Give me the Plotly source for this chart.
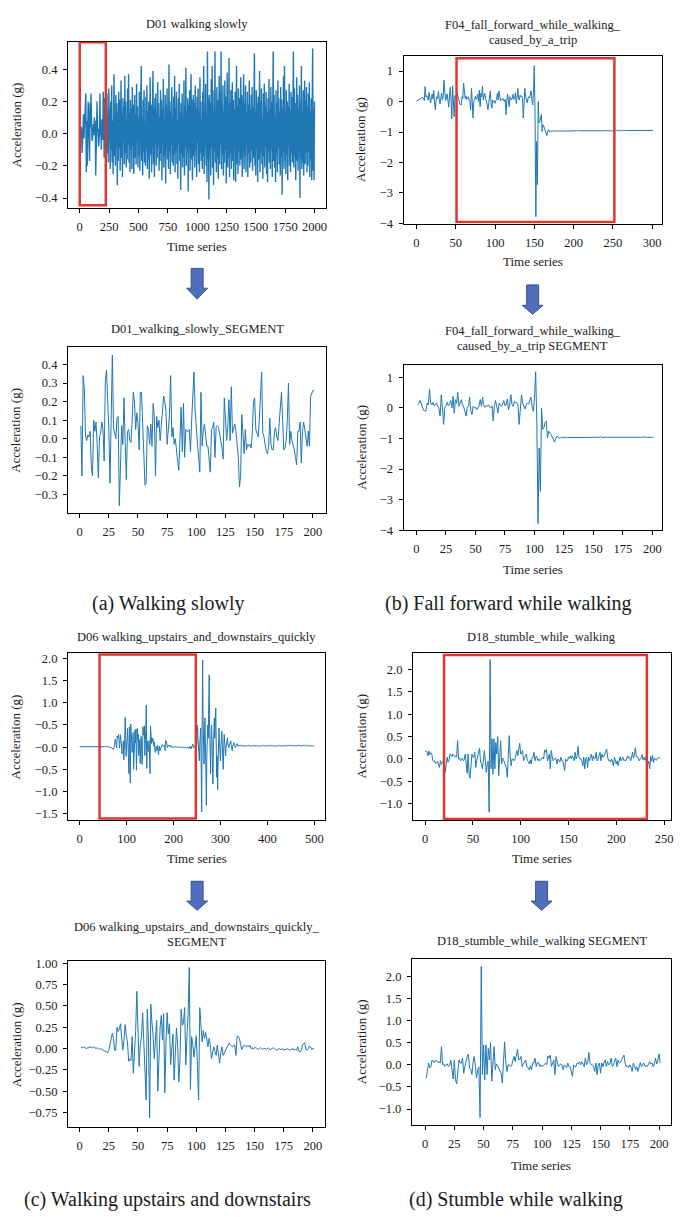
import numpy as np
import plotly.graph_objects as go

W, H = 682, 1217
FONT = "Liberation Serif"
LINE = "#1f77b4"
RED = "#e2352b"
ARROW_FILL = "#4f6fbd"
ARROW_EDGE = "#34508f"
TXT = "#1a1a1a"

# ---------------------------------------------------------------- data
# D01 walking slowly: 201-sample segment (samples 1..201)
D01_SEG = [
    0.07, -0.20, 0.34, 0.27, 0.02, -0.01, 0.02, 0.01, 0.04, -0.15,
    -0.20, 0.10, 0.04, 0.09, -0.03, -0.21, 0.01, 0.03, 0.09, 0.05,
    -0.12, 0.31, 0.37, 0.24, 0.05, -0.24, 0.12, 0.45, 0.06, 0.03,
    0.00, 0.11, 0.12, -0.36, -0.12, 0.07, -0.03, 0.22, -0.02, -0.22,
    0.04, 0.05, -0.01, -0.02, 0.10, 0.25, 0.20, 0.05, 0.14, 0.08,
    -0.06, 0.25, 0.25, 0.10, -0.04, -0.25, -0.24, 0.07, 0.05, -0.03,
    0.08, -0.04, 0.19, 0.12, -0.20, 0.12, 0.06, 0.10, -0.01, 0.08,
    0.15, 0.23, 0.20, 0.15, -0.03, 0.05, 0.13, 0.34, 0.01, 0.06,
    -0.03, 0.00, -0.08, -0.12, -0.17, 0.05, 0.17, -0.07, 0.19, -0.10,
    0.05, 0.04, 0.04, 0.05, -0.07, 0.10, 0.25, 0.36, 0.15, 0.03,
    -0.03, -0.10, -0.18, 0.25, -0.04, 0.04, 0.08, 0.02, -0.04, -0.04,
    -0.10, -0.18, 0.05, 0.06, 0.09, -0.10, 0.06, 0.07, 0.06, 0.01,
    -0.01, -0.05, -0.11, 0.22, 0.10, -0.01, 0.07, 0.21, -0.01, 0.28,
    0.03, 0.06, 0.08, 0.04, -0.03, -0.10, -0.26, -0.20, 0.13, 0.04,
    -0.08, 0.05, -0.06, -0.03, -0.04, -0.03, -0.05, 0.03, 0.20, 0.22,
    0.05, 0.03, 0.01, 0.10, 0.20, 0.36, 0.03, 0.01, -0.03, -0.07,
    -0.08, -0.04, 0.11, -0.03, -0.06, -0.06, 0.04, 0.06, 0.01, -0.01,
    0.08, 0.15, 0.25, 0.10, -0.06, -0.05, -0.01, 0.10, 0.30, -0.03,
    0.04, -0.01, -0.03, -0.06, -0.10, -0.14, 0.04, 0.04, 0.09, -0.13,
    0.04, 0.09, 0.05, -0.01, -0.04, 0.04, -0.04, 0.23, 0.25, 0.26,
    0.26,
]
# rest of the D01 recording, every 4th sample from 204 to 2000
D01_STEP = 4
D01_REST = [
    0.12, -0.15, 0.22, -0.08, 0.18, -0.20, 0.05, 0.25, -0.12, 0.10, -0.18, 0.28, -0.05, 0.15, -0.22,
    0.20, -0.10, 0.30, -0.18, 0.08, -0.25, 0.16, 0.37, -0.14, 0.12, -0.20, 0.24, -0.06, 0.19, -0.32,
    0.14, -0.17, 0.26, -0.09, 0.21, -0.23, 0.06, 0.33, -0.15, 0.11, -0.27, 0.22, -0.04, 0.17, -0.19,
    0.36, -0.12, 0.20, -0.21, 0.09, -0.16, 0.28, -0.07, 0.37, -0.18, 0.13, -0.24, 0.21, -0.10, 0.16,
    -0.22, 0.29, -0.08, 0.18, -0.25, 0.07, 0.24, -0.15, 0.12, -0.19, 0.31, -0.05, 0.17, -0.21, 0.10,
    -0.14, 0.26, -0.23, 0.15, -0.07, 0.42, -0.17, 0.09, -0.26, 0.21, -0.11, 0.27, -0.18, 0.06, -0.20,
    0.23, -0.09, 0.30, -0.22, 0.14, -0.16, 0.20, -0.28, 0.11, 0.35, -0.13, 0.18, -0.24, 0.08, -0.10,
    0.39, -0.19, 0.16, -0.27, 0.22, -0.06, 0.25, -0.20, 0.13, -0.15, 0.32, -0.08, 0.19, -0.23, 0.10,
    -0.17, 0.27, -0.12, 0.21, -0.29, 0.15, -0.05, 0.34, -0.21, 0.09, -0.14, 0.24, -0.31, 0.18, -0.09,
    0.28, -0.16, 0.12, -0.22, 0.43, -0.11, 0.20, -0.25, 0.14, -0.07, 0.29, -0.18, 0.10, -0.20, 0.23,
    -0.13, 0.36, -0.24, 0.16, -0.10, 0.26, -0.19, 0.08, -0.28, 0.22, -0.06, 0.31, -0.17, 0.13, -0.35,
    0.19, -0.12, 0.25, -0.21, 0.11, -0.15, 0.33, -0.26, 0.17, -0.08, 0.41, -0.20, 0.14, -0.11, 0.22,
    -0.36, 0.18, -0.09, 0.27, -0.23, 0.12, 0.37, -0.16, 0.21, -0.29, 0.07, 0.24, -0.14, 0.19, -0.21,
    0.30, -0.10, 0.16, -0.27, 0.23, -0.05, 0.28, -0.19, 0.13, -0.24, 0.35, -0.12, 0.20, -0.17, 0.09,
    -0.22, 0.26, -0.14, 0.42, -0.25, 0.15, -0.08, 0.31, -0.20, 0.11, -0.30, 0.51, -0.16, 0.22, -0.41,
    0.24, -0.13, 0.19, -0.26, 0.34, -0.09, 0.42, -0.21, 0.14, -0.32, 0.27, -0.11, 0.51, -0.18, 0.12,
    -0.24, 0.29, -0.15, 0.21, -0.28, 0.10, 0.36, -0.19, 0.25, -0.07, 0.51, -0.22, 0.17, -0.13, 0.30,
    -0.26, 0.14, -0.18, 0.33, -0.10, 0.23, -0.31, 0.16, 0.38, -0.21, 0.12, -0.15, 0.47, -0.27, 0.19,
    -0.12, 0.27, -0.22, 0.09, 0.32, -0.17, 0.21, -0.29, 0.15, -0.08, 0.26, -0.30, 0.13, 0.42, -0.19,
    0.17, -0.25, 0.28, -0.11, 0.22, -0.20, 0.10, 0.35, -0.16, 0.24, -0.27, 0.12, -0.09, 0.37, -0.22,
    0.19, -0.14, 0.30, -0.24, 0.13, -0.07, 0.26, -0.27, 0.18, -0.12, 0.33, -0.21, 0.15, -0.18, 0.24,
    -0.10, 0.29, -0.23, 0.16, -0.15, 0.21, 0.50, -0.20, 0.12, -0.26, 0.27, -0.09, 0.19, -0.30, 0.23,
    -0.16, 0.14, 0.39, -0.24, 0.20, -0.11, 0.28, -0.19, 0.09, -0.28, 0.25, -0.14, 0.31, -0.21, 0.17,
    -0.08, 0.26, -0.25, 0.13, -0.30, 0.22, -0.12, 0.34, -0.18, 0.15, -0.22, 0.29, -0.10, 0.20, -0.27,
    0.18, 0.51, -0.17, 0.24, -0.21, 0.11, -0.30, 0.27, -0.13, 0.19, -0.24, 0.33, -0.09, 0.22, -0.19,
    0.14, -0.26, 0.29, -0.15, 0.21, -0.38, 0.16, -0.11, 0.36, -0.22, 0.42, -0.17, 0.12, -0.25, 0.27,
    -0.13, 0.20, -0.29, 0.17, -0.08, 0.31, -0.20, 0.14, -0.24, 0.26, -0.12, 0.23, -0.18, 0.15, 0.51,
    -0.21, 0.28, -0.14, 0.19, -0.29, 0.12, 0.35, -0.17, 0.24, -0.23, 0.16, -0.10, 0.30, -0.40, 0.20,
    -0.15, 0.42, -0.22, 0.13, -0.18, 0.27, -0.26, 0.10, 0.33, -0.19, 0.21, -0.12, 0.29, -0.24, 0.17,
    -0.20, 0.25, -0.11, 0.32, -0.27, 0.14, -0.16, 0.22, -0.29, 0.18, 0.53, -0.23, 0.15, -0.29, 0.20,
]

# F04 fall forward while walking caused by a trip
F04_PRE = [
    0.01, 0.03, 0.06, 0.09, 0.10, 0.11, 0.12, 0.12, 0.13, 0.08,
    0.03, 0.49, 0.15, 0.20, 0.09, 0.05, 0.30, 0.12, -0.05, 0.10,
    0.25, 0.08, 0.36, -0.02, -0.27, 0.05, 0.16, 0.10, 0.34, 0.05,
    -0.08, 0.12, 0.27, 0.05, 0.14, 0.71, 0.20, 0.03, 0.10, 0.25,
    0.05, -0.18, 0.15, 0.47, 0.05, -0.57, 0.52, 0.10, -0.50, 0.20,
]
F04_SEG = [
    0.10, 0.15, 0.24, 0.14, 0.07, -0.08, -0.09, -0.11, 0.16, 0.10,
    0.61, 0.16, 0.10, 0.18, 0.07, 0.12, 0.16, 0.05, 0.00, -0.27,
    0.43, 0.00, -0.54, 0.02, 0.05, 0.18, 0.07, 0.12, 0.24, 0.00,
    0.37, -0.17, 0.27, 0.15, 0.51, 0.05, 0.20, 0.27, 0.10, 0.03,
    -0.10, -0.27, 0.03, 0.05, 0.35, -0.08, -0.22, 0.05, 0.00, 0.02,
    -0.06, 0.03, 0.07, 0.27, 0.05, 0.35, 0.10, 0.02, 0.07, 0.05,
    0.10, 0.03, 0.00, 0.07, -0.43, 0.05, 0.24, 0.05, -0.17, 0.16,
    0.10, 0.05, 0.12, 0.24, 0.07, 0.10, 0.29, -0.06, 0.12, 0.43,
    0.10, 0.05, 0.21, 0.16, 0.18, 0.10, -0.54, 0.10, 0.43, 0.16,
    0.05, -0.04, 0.10, 0.16, 0.12, 0.27, 0.35, 0.05, -0.11, 0.30,
    1.18, -0.50, -3.78, -1.31, -2.73, 0.00, -0.70, -0.65, -0.48, -0.43,
    -0.98, -0.76, -0.80, -0.87, -0.95, -1.05, -1.12, -1.00, -0.92, -0.95,
    -1.00, -0.98, -0.96, -0.97, -0.96, -0.97, -0.96, -0.97, -0.97, -0.96,
    -0.97, -0.96, -0.97, -0.96, -0.96, -0.97, -0.97, -0.96, -0.97, -0.96,
    -0.96, -0.97, -0.96, -0.97, -0.96, -0.96, -0.97, -0.96, -0.97, -0.96,
    -0.96, -0.97, -0.96, -0.95, -0.96, -0.94, -0.96, -0.97, -0.96, -0.96,
    -0.97, -0.96, -0.97, -0.96, -0.96, -0.97, -0.96, -0.96, -0.97, -0.96,
    -0.97, -0.96, -0.96, -0.97, -0.96, -0.97, -0.96, -0.96, -0.97, -0.96,
    -0.96, -0.97, -0.96, -0.97, -0.97, -0.96, -0.96, -0.98, -0.97, -0.96,
    -0.96, -0.95, -0.96, -0.97, -0.96, -0.96, -0.97, -0.96, -0.96, -0.97,
    -0.96,
]
F04_POST = [
    -0.96, -0.95, -0.96, -0.95, -0.95, -0.94, -0.96, -0.95, -0.95, -0.96,
    -0.95, -0.95, -0.94, -0.95, -0.96, -0.95, -0.95, -0.95, -0.96, -0.95,
    -0.95, -0.94, -0.95, -0.95, -0.96, -0.95, -0.95, -0.95, -0.96, -0.95,
    -0.95, -0.95, -0.94, -0.95, -0.96, -0.95, -0.95, -0.96, -0.95, -0.95,
    -0.95, -0.96, -0.95, -0.95, -0.94, -0.95, -0.95, -0.96, -0.95, -0.95,
    -0.95,
]

# D06 walking upstairs and downstairs quickly
D06_PRE = [
    0.01, 0.01, 0.02, 0.01, 0.01, 0.02, 0.02, 0.01, 0.02, 0.01,
    0.01, 0.02, 0.01, 0.02, 0.02, 0.01, 0.01, 0.02, 0.01, 0.02,
    0.02, 0.01, 0.02, 0.01, 0.01, 0.02, 0.02, 0.01, 0.02, 0.01,
    0.01, 0.02, 0.02, 0.01, 0.02, 0.01, 0.02, 0.01, 0.01, 0.02,
    0.02, 0.01, 0.01, 0.02, 0.01, 0.02, 0.01, 0.01, 0.01,
]
D06_SEG = [
    0.01, 0.01, 0.02, 0.01, 0.01, 0.00, 0.01, 0.01, 0.02, 0.01,
    0.01, 0.02, 0.01, 0.00, 0.01, 0.00, -0.01, 0.00, -0.01, -0.01,
    -0.02, -0.03, -0.04, -0.05, -0.02, 0.05, 0.15, 0.18, 0.12, -0.02,
    -0.02, 0.25, 0.20, 0.23, 0.29, 0.08, -0.02, 0.10, 0.28, 0.15,
    0.08, -0.15, -0.12, -0.14, 0.14, -0.29, -0.08, 0.20, 0.67, 0.27,
    -0.21, 0.05, 0.14, 0.42, 0.10, -0.27, -0.60, 0.46, 0.10, -0.81,
    0.52, 0.30, 0.15, -0.12, 0.05, 0.33, -0.50, 0.04, 0.25, 0.39,
    0.10, 0.41, -0.52, 0.05, 0.42, 0.17, 0.29, -0.19, 0.05, 0.17,
    -0.37, -0.02, 0.24, 0.05, -0.39, -0.14, 0.46, 0.27, 0.30, 0.48,
    -0.19, 0.14, 0.40, 0.95, -0.48, 0.14, 0.05, -0.10, 0.05, 0.15,
    -0.20, -0.60, 0.48, 0.30, 0.08, 0.21, 0.12, 0.19, 0.08, 0.02,
    0.12, 0.05, -0.12, -0.05, 0.02, -0.03, -0.08, 0.04, -0.05, -0.17,
    -0.05, 0.02, -0.08, -0.05, -0.02, 0.02, 0.04, 0.06, 0.05, 0.03,
    0.02, 0.04, 0.04, -0.08, 0.15, 0.14, 0.12, 0.05, -0.01, 0.02,
    0.04, 0.03, 0.02, 0.04, 0.02, 0.04, 0.00, 0.01, -0.01, 0.01,
    0.01, 0.00, -0.01, 0.00, 0.01, 0.00, -0.01, 0.00, 0.00, -0.01,
    0.00, 0.01, -0.01, -0.01, 0.00, 0.01, 0.00, -0.01, -0.02, -0.01,
    0.00, -0.01, -0.01, 0.00, -0.02, -0.01, -0.01, 0.00, -0.01, -0.02,
    -0.01, -0.01, 0.00, -0.02, -0.01, -0.02, 0.02, -0.03, -0.04, -0.02,
    0.04, 0.05, 0.07, -0.01, -0.02, 0.00, 0.03, 0.02, -0.01, 0.00,
    0.00,
]
D06_POST = [
    0.14, 0.50, 0.20, 0.05, -0.15, -0.31, 0.10, 0.30, 0.43, -0.50,
    -1.46, 0.40, 1.96, 0.60, 0.05, -0.38, 0.20, 0.66, 0.10, -0.60,
    -1.31, -0.20, 0.30, 0.50, 0.20, 0.90, 1.63, 0.40, -0.20, -0.60,
    0.10, 0.50, 0.20, -0.30, -0.83, 0.00, 0.30, 0.66, 0.20, 0.40,
    0.88, 0.10, -0.68, -0.20, -0.96, -0.30, 0.20, 0.43, 0.10, -0.10,
    -0.31, 0.00, 0.20, 0.36, 0.00, -0.30, -0.50, 0.00, 0.29, 0.10,
    -0.05, -0.20, 0.00, 0.10, 0.15, 0.21, 0.05, 0.02, -0.01, 0.05,
    0.08, 0.10, 0.14, 0.03, -0.02, -0.08, 0.02, 0.05, 0.08, 0.10,
    0.04, 0.01, -0.01, 0.03, 0.05, 0.07, 0.08, 0.03, 0.02, 0.04,
    0.03,
    0.02, 0.03, 0.04, 0.03, 0.02, 0.03, 0.03, 0.04, 0.02, 0.03,
    0.03, 0.02, 0.03, 0.04, 0.03, 0.03, 0.02, 0.03, 0.04, 0.03,
    0.02, 0.03, 0.03, 0.04, 0.03, 0.02, 0.03, 0.03, 0.04, 0.03,
    0.03, 0.02, 0.04, 0.03, 0.03, 0.02, 0.03, 0.04, 0.03, 0.03,
    0.04, 0.03, 0.02, 0.03, 0.04, 0.03, 0.03, 0.02, 0.03, 0.04,
    0.03, 0.03, 0.04, 0.02, 0.03, 0.03, 0.04, 0.03, 0.02, 0.03,
    0.03, 0.04, 0.03, 0.03, 0.02, 0.03, 0.04, 0.03, 0.03, 0.04,
    0.02, 0.03, 0.03, 0.04, 0.03, 0.02, 0.03, 0.04, 0.03, 0.03,
    0.04, 0.03, 0.03, 0.02, 0.03, 0.04, 0.03, 0.03, 0.04, 0.02,
    0.03, 0.03, 0.04, 0.03, 0.03, 0.02, 0.04, 0.03, 0.03, 0.04,
    0.03, 0.02, 0.03, 0.04, 0.03, 0.03, 0.04, 0.03, 0.02, 0.03,
    0.04, 0.03, 0.03, 0.04, 0.02, 0.03, 0.03, 0.04, 0.03, 0.03,
    0.02, 0.03, 0.04, 0.03, 0.03, 0.04, 0.03, 0.02, 0.03, 0.03,
    0.04, 0.03, 0.03, 0.02, 0.03, 0.04, 0.03, 0.03, 0.04, 0.03,
    0.02, 0.03, 0.04, 0.03, 0.03, 0.04, 0.03, 0.03, 0.02, 0.03,
    0.04, 0.03, 0.03, 0.04, 0.03, 0.02, 0.03, 0.04, 0.03, 0.03,
]

# D18 stumble while walking
D18_PRE = [
    0.17, 0.18, 0.16, 0.07, 0.18, 0.10, 0.14, 0.12, -0.04, -0.06,
    -0.04, -0.10, -0.08, -0.05, -0.15, -0.19, -0.04, -0.12, -0.08, -0.04,
    -0.02,
]
D18_SEG = [
    -0.30, -0.10, 0.04, -0.07, -0.04, 0.11, 0.08, 0.05, 0.11, 0.08,
    0.05, 0.07, 0.04, 0.41, 0.00, 0.02, -0.04, 0.00, 0.02, -0.04,
    -0.01, 0.11, -0.19, -0.32, 0.11, -0.34, -0.43, -0.04, 0.11, 0.04,
    0.04, 0.15, -0.19, -0.04, 0.08, 0.19, 0.24, -0.07, -0.10, -0.22,
    0.05, 0.19, -0.04, -0.30, -0.11, -0.05, -1.19, 2.22, -0.22, 0.45,
    -0.34, 0.45, -0.22, 0.37, 0.11, 0.50, -0.37, 0.20, 0.41, -0.11,
    0.02, -0.02, -0.07, -0.15, -0.20, -0.41, 0.26, 0.52, 0.05, -0.15,
    0.00, 0.00, -0.04, -0.02, 0.10, 0.19, 0.07, 0.20, 0.35, 0.11,
    0.12, 0.19, -0.04, 0.02, 0.07, 0.11, -0.04, -0.06, -0.11, -0.02,
    -0.11, 0.04, 0.04, 0.15, -0.04, 0.05, 0.05, -0.04, 0.00, -0.04,
    -0.02, 0.00, 0.04, 0.00, 0.20, 0.15, 0.22, -0.04, 0.05, 0.11,
    -0.22, 0.19, 0.05, -0.04, 0.00, 0.02, 0.00, -0.11, 0.00, -0.04,
    -0.07, 0.04, -0.04, -0.04, -0.19, -0.26, 0.00, -0.04, -0.04, 0.04,
    0.02, 0.07, 0.00, 0.07, 0.02, -0.04, 0.15, 0.00, 0.05, 0.28,
    0.04, 0.00, 0.00, -0.04, -0.15, 0.04, -0.22, 0.00, 0.04, -0.19,
    0.04, -0.04, 0.05, 0.11, -0.04, 0.07, 0.00, 0.02, 0.15, -0.04,
    0.00, 0.07, 0.15, -0.04, 0.11, 0.04, 0.06, 0.11, 0.15, 0.22,
    0.04, -0.04, -0.02, -0.07, 0.00, -0.05, -0.15, 0.04, -0.02, -0.11,
    -0.04, -0.15, -0.05, 0.05, -0.04, 0.01, 0.04, -0.04, -0.02, -0.04,
    0.00, 0.07, 0.02, 0.04, -0.04, 0.02, 0.15, 0.02, 0.10, 0.25,
    0.04,
]
D18_POST = [
    0.05, 0.02, -0.04, 0.00, 0.03, 0.10, -0.02, 0.04, -0.03, 0.02,
    0.12, -0.12, -0.05, -0.22, 0.06, -0.05, 0.08, -0.08, 0.02, 0.00,
    -0.03, 0.02, 0.03, 0.02, 0.02,
]

# ---------------------------------------------------------------- series
d01_full = D01_SEG[::D01_STEP] + D01_REST
f04_full = F04_PRE + F04_SEG + F04_POST
d06_full = D06_PRE + D06_SEG + D06_POST
d18_full = D18_PRE + D18_SEG + D18_POST


def seg_x(v):
    return np.arange(1, len(v) + 1)


def full_x(v, step=1):
    return np.arange(len(v)) * step


def labels(vals, fmt):
    return [(fmt.format(v)).replace("-", "\u2212") for v in vals]


# panel boxes in pixels: left, right, top, bottom
panels = [
    dict(x=full_x(d01_full, D01_STEP), y=d01_full, lw=1.4,
         box=(68.3, 327.7, 37, 205), xr=[-100, 2100], yr=[-0.462, 0.572],
         xt=list(range(0, 2001, 250)), yt=[-0.4, -0.2, 0.0, 0.2, 0.4], yf="{:.1f}",
         rect=(0, 222, -0.445, 0.568)),
    dict(x=full_x(f04_full), y=f04_full, lw=1,
         box=(405.3, 665, 51.7, 220.7), xr=[-16.5, 312.7], yr=[-4.005, 1.49],
         xt=list(range(0, 301, 50)), yt=[-4, -3, -2, -1, 0, 1], yf="{:.0f}",
         rect=(51, 252, -3.955, 1.42)),
    dict(x=seg_x(D01_SEG), y=D01_SEG, lw=1,
         box=(68.3, 327.7, 345, 513.3), xr=[-10, 211.4], yr=[-0.401, 0.496],
         xt=list(range(0, 201, 25)), yt=[-0.3, -0.2, -0.1, 0.0, 0.1, 0.2, 0.3, 0.4], yf="{:.1f}",
         rect=None),
    dict(x=seg_x(F04_SEG), y=F04_SEG, lw=1,
         box=(405.3, 665.3, 363.3, 530.7), xr=[-11, 208.4], yr=[-4.005, 1.41],
         xt=list(range(0, 201, 25)), yt=[-4, -3, -2, -1, 0, 1], yf="{:.0f}",
         rect=None),
    dict(x=full_x(d06_full), y=d06_full, lw=1,
         box=(68.3, 326.7, 654.3, 823.3), xr=[-24.8, 523.3], yr=[-1.648, 2.127],
         xt=list(range(0, 501, 100)), yt=[-1.5, -1.0, -0.5, 0.0, 0.5, 1.0, 1.5, 2.0], yf="{:.1f}",
         ytext=["\u22121.5", "\u22121.0", "\u22120.5", "\u22120.0", "\u22120.5", "1.0", "1.5", "2.0"],
         rect=(42.4, 247.5, -1.61, 2.09)),
    dict(x=full_x(d18_full), y=d18_full, lw=1,
         box=(414.7, 673.7, 654.3, 823.3), xr=[-12.8, 257], yr=[-1.367, 2.37],
         xt=list(range(0, 251, 50)), yt=[-1.0, -0.5, 0.0, 0.5, 1.0, 1.5, 2.0], yf="{:.1f}",
         rect=(19.8, 232, -1.34, 2.32)),
    dict(x=seg_x(D06_SEG), y=D06_SEG, lw=1,
         box=(68.3, 326.7, 966, 1133.3), xr=[-10, 210.6], yr=[-0.92, 1.02],
         xt=list(range(0, 201, 25)), yt=[-0.75, -0.5, -0.25, 0.0, 0.25, 0.5, 0.75, 1.0], yf="{:.2f}",
         rect=None),
    dict(x=seg_x(D18_SEG), y=D18_SEG, lw=1,
         box=(413.7, 673.7, 964, 1130.7), xr=[-11.3, 210], yr=[-1.35, 2.38],
         xt=list(range(0, 201, 25)), yt=[-1.0, -0.5, 0.0, 0.5, 1.0, 1.5, 2.0], yf="{:.1f}",
         rect=None),
]

# titles: (text, centre x, centre y) in pixels
titles = [
    ("D01 walking slowly", 198, 19),
    ("F04_fall_forward_while_walking_", 535, 20),
    ("caused_by_a_trip", 535, 35),
    ("D01_walking_slowly_SEGMENT", 198, 327.7),
    ("F04_fall_forward_while_walking_", 535, 329.3),
    ("caused_by_a_trip SEGMENT", 535, 344.3),
    ("D06 walking_upstairs_and_downstairs_quickly", 197.5, 638.3),
    ("D18_stumble_while_walking", 544, 638.3),
    ("D06 walking_upstairs_and_downstairs_quickly_", 197.5, 931.5),
    ("SEGMENT", 197.5, 946.5),
    ("D18_stumble_while_walking SEGMENT", 544, 945.7),
]
xtitle_y = {0: 244, 1: 259, 3: 570, 4: 861.7, 5: 861.7, 7: 1172.3}
ytitle_x = {0: 16.7, 1: 362.7, 2: 16, 3: 362.7, 4: 16, 5: 362.7, 6: 16, 7: 362.7}

captions = [
    ("(a) Walking slowly", 169, 604),
    ("(b) Fall forward while walking", 511, 604),
    ("(c) Walking upstairs and downstairs", 168, 1206.7),
    ("(d) Stumble while walking", 518, 1206.7),
]

# block arrows: centre x, shaft top, neck, tip (pixels)
arrows = [(198, 266, 286, 297), (535, 282.7, 303.3, 312.3),
          (198, 885, 905, 914.3), (544, 885, 905, 914.3)]


def note(text, cx, cy, size, angle=0):
    return dict(text=text, x=cx / W, y=1 - cy / H, xref="paper", yref="paper",
                showarrow=False, xanchor="center", yanchor="middle", textangle=angle,
                font=dict(family=FONT, size=size, color=TXT))


def arrow_path(cx, top, neck, tip, shaft=12, head=21):
    pts = [(cx - shaft / 2, top), (cx + shaft / 2, top), (cx + shaft / 2, neck),
           (cx + head / 2, neck), (cx, tip), (cx - head / 2, neck), (cx - shaft / 2, neck)]
    return "M " + " L ".join(f"{x / W:.5f},{1 - y / H:.5f}" for x, y in pts) + " Z"


fig = go.Figure()
layout = {}
annotations = []
shapes = []
tickfont = dict(family=FONT, size=12.5, color=TXT)

for i, p in enumerate(panels):
    n = i + 1
    xa = "x" if n == 1 else f"x{n}"
    ya = "y" if n == 1 else f"y{n}"
    xkey = "xaxis" if n == 1 else f"xaxis{n}"
    ykey = "yaxis" if n == 1 else f"yaxis{n}"
    L, R, T, B = p["box"]

    fig.add_trace(go.Scatter(x=p["x"], y=p["y"], mode="lines",
                             line=dict(color=LINE, width=p["lw"]),
                             xaxis=xa, yaxis=ya, showlegend=False, hoverinfo="skip"))

    common = dict(showline=True, mirror=True, linecolor="black", linewidth=1,
                  ticks="outside", ticklen=4, tickwidth=1, tickcolor="black",
                  showgrid=False, zeroline=False, tickfont=tickfont, ticklabelstandoff=3)
    layout[xkey] = dict(domain=[L / W, R / W], anchor=ya, range=p["xr"],
                        tickmode="array", tickvals=p["xt"], ticktext=[str(v) for v in p["xt"]],
                        **common)
    layout[ykey] = dict(domain=[1 - B / H, 1 - T / H], anchor=xa, range=p["yr"],
                        tickmode="array", tickvals=p["yt"],
                        ticktext=p.get("ytext", labels(p["yt"], p["yf"])),
                        **common)

    if i in xtitle_y:
        annotations.append(note("Time series", (L + R) / 2, xtitle_y[i], 13))
    annotations.append(note("Acceleration (g)", ytitle_x[i], (T + B) / 2, 13, -90))

    if p["rect"] is not None:
        x0, x1, y0, y1 = p["rect"]
        shapes.append(dict(type="rect", xref=xa, yref=ya, x0=x0, x1=x1, y0=y0, y1=y1,
                           line=dict(color=RED, width=2.5), fillcolor="rgba(0,0,0,0)"))

for text, cx, cy in titles:
    annotations.append(note(text, cx, cy, 12.5))
for text, cx, cy in captions:
    annotations.append(note(text, cx, cy, 20))
for cx, top, neck, tip in arrows:
    shapes.append(dict(type="path", xref="paper", yref="paper",
                       path=arrow_path(cx, top, neck, tip),
                       fillcolor=ARROW_FILL, line=dict(color=ARROW_EDGE, width=1)))

fig.update_layout(
    width=W, height=H, margin=dict(l=0, r=0, t=0, b=0),
    paper_bgcolor="white", plot_bgcolor="white",
    annotations=annotations, shapes=shapes, showlegend=False,
    **layout,
)

fig.write_html("out.html")
